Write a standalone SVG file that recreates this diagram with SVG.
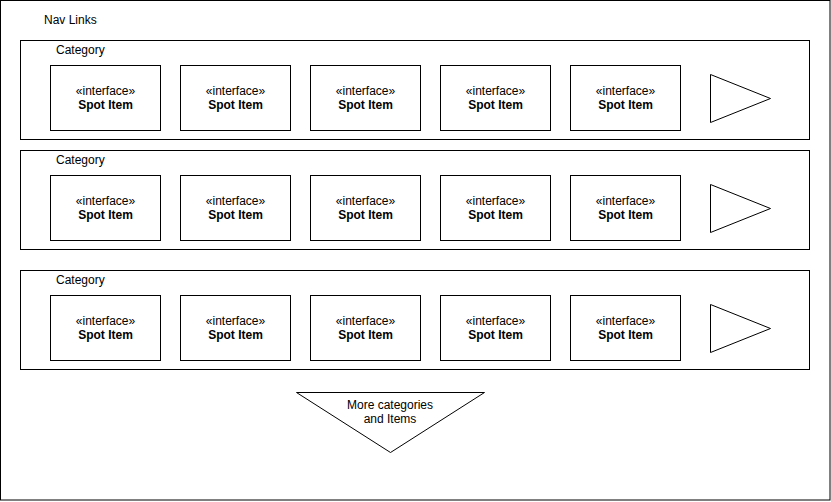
<svg xmlns="http://www.w3.org/2000/svg" width="831" height="502" viewBox="0 0 831 502">
<style>
.b{fill:#fff;stroke:#000;stroke-width:1}
text{font-family:"Liberation Sans",Arial,sans-serif;font-size:12px;fill:#000}
.c{text-anchor:middle}
.bold{font-weight:bold}
</style>
<defs>
<g id="spot">
<rect class="b" x="0" y="0" width="110" height="65"/>
<text class="c" x="55" y="29">«interface»</text>
<text class="c bold" x="55" y="43">Spot Item</text>
</g>
</defs>
<rect width="831" height="502" fill="#fff"/>
<g id="nav">
<rect class="b" x="0.5" y="0.5" width="829.5" height="499.5"/>
<text x="44" y="24">Nav Links</text>
</g>
<g id="cat1">
<rect class="b" x="20.5" y="40.5" width="789" height="99"/>
<text x="56" y="54">Category</text>
<use href="#spot" x="50.5" y="65.5"/>
<use href="#spot" x="180.5" y="65.5"/>
<use href="#spot" x="310.5" y="65.5"/>
<use href="#spot" x="440.5" y="65.5"/>
<use href="#spot" x="570.5" y="65.5"/>
<polygon class="b" points="710.5,74.5 770.5,98.5 710.5,122.5"/>
</g>
<g id="cat2">
<rect class="b" x="20.5" y="150.5" width="789" height="99"/>
<text x="56" y="164">Category</text>
<use href="#spot" x="50.5" y="175.5"/>
<use href="#spot" x="180.5" y="175.5"/>
<use href="#spot" x="310.5" y="175.5"/>
<use href="#spot" x="440.5" y="175.5"/>
<use href="#spot" x="570.5" y="175.5"/>
<polygon class="b" points="710.5,184.5 770.5,208.5 710.5,232.5"/>
</g>
<g id="cat3">
<rect class="b" x="20.5" y="270.5" width="789" height="99"/>
<text x="56" y="284">Category</text>
<use href="#spot" x="50.5" y="295.5"/>
<use href="#spot" x="180.5" y="295.5"/>
<use href="#spot" x="310.5" y="295.5"/>
<use href="#spot" x="440.5" y="295.5"/>
<use href="#spot" x="570.5" y="295.5"/>
<polygon class="b" points="710.5,304.5 770.5,328.5 710.5,352.5"/>
</g>
<g id="more">
<polygon class="b" points="296.5,392.5 484.5,392.5 390.5,452.5"/>
<text class="c" x="390" y="409">More categories</text>
<text class="c" x="390" y="423">and Items</text>
</g>
<g id="connectors"/>
</svg>
